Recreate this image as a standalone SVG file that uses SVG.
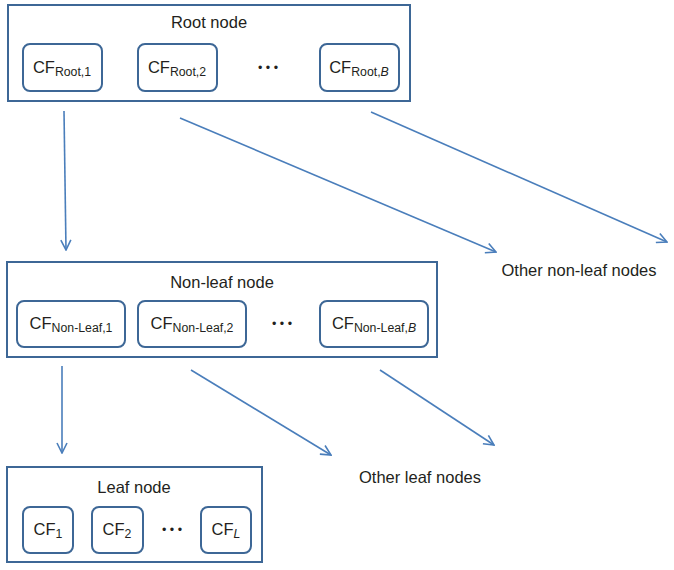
<svg xmlns="http://www.w3.org/2000/svg" width="674" height="570" viewBox="0 0 674 570">
<defs>
<marker id="ah" viewBox="0 0 12 12" refX="11" refY="6" markerWidth="12" markerHeight="12" markerUnits="userSpaceOnUse" orient="auto">
<path d="M1,1 L11,6 L1,11" fill="none" stroke="#4a7ebb" stroke-width="1.6"/>
</marker>
</defs>
<style>
.outer{fill:#fff;stroke:#3d6796;stroke-width:2}
.inner{fill:#fff;stroke:#3d6796;stroke-width:2}
.t{font-family:"Liberation Sans",Arial,sans-serif;font-size:16.5px;fill:#231f20;text-anchor:middle}
.sub{font-size:12.3px}
.dots{font-family:"Liberation Sans",Arial,sans-serif;font-size:12.5px;fill:#231f20;text-anchor:middle}
.conn line{stroke:#4a7ebb;stroke-width:1.6;marker-end:url(#ah)}
</style>
<rect width="674" height="570" fill="#fff"/>
<g id="root">
<rect class="outer" x="8" y="5" width="402" height="96"/>
<text class="t" x="209" y="28">Root node</text>
<rect class="inner" x="23" y="44" width="79" height="47" rx="7"/>
<text class="t" x="62" y="73">CF<tspan class="sub" dy="3">Root,1</tspan></text>
<rect class="inner" x="138" y="44" width="79" height="47" rx="7"/>
<text class="t" x="177" y="73">CF<tspan class="sub" dy="3">Root,2</tspan></text>
<text class="dots" x="268" y="72">• • •</text>
<rect class="inner" x="320" y="44" width="79" height="47" rx="7"/>
<text class="t" x="359" y="73">CF<tspan class="sub" dy="3">Root,<tspan font-style="italic">B</tspan></tspan></text>
</g>
<g id="nonleaf">
<rect class="outer" x="7" y="262" width="430" height="95"/>
<text class="t" x="222" y="288">Non-leaf node</text>
<rect class="inner" x="17" y="301" width="108" height="46" rx="7"/>
<text class="t" x="71" y="329">CF<tspan class="sub" dy="3">Non-Leaf,1</tspan></text>
<rect class="inner" x="138" y="301" width="108" height="46" rx="7"/>
<text class="t" x="192" y="329">CF<tspan class="sub" dy="3">Non-Leaf,2</tspan></text>
<text class="dots" x="282" y="328">• • •</text>
<rect class="inner" x="320" y="301" width="108" height="46" rx="7"/>
<text class="t" x="374" y="329">CF<tspan class="sub" dy="3">Non-Leaf,<tspan font-style="italic">B</tspan></tspan></text>
</g>
<g id="leaf">
<rect class="outer" x="7" y="467" width="255" height="95"/>
<text class="t" x="134" y="493">Leaf node</text>
<rect class="inner" x="23" y="507" width="50" height="46" rx="7"/>
<text class="t" x="48" y="535">CF<tspan class="sub" dy="3">1</tspan></text>
<rect class="inner" x="92" y="507" width="51" height="46" rx="7"/>
<text class="t" x="117" y="535">CF<tspan class="sub" dy="3">2</tspan></text>
<text class="dots" x="172" y="534">• • •</text>
<rect class="inner" x="201" y="507" width="50" height="46" rx="7"/>
<text class="t" x="226" y="535">CF<tspan class="sub" dy="3" font-style="italic">L</tspan></text>
</g>
<g id="other-nonleaf">
<text class="t" x="579" y="276">Other non-leaf nodes</text>
</g>
<g id="other-leaf">
<text class="t" x="420" y="483">Other leaf nodes</text>
</g>
<g class="conn" id="connectors">
<line x1="64" y1="111" x2="66" y2="250"/>
<line x1="180" y1="118" x2="496" y2="252"/>
<line x1="371" y1="112" x2="667" y2="242"/>
<line x1="62" y1="366" x2="62" y2="453"/>
<line x1="191" y1="370" x2="331" y2="455"/>
<line x1="380" y1="370" x2="494" y2="445"/>
</g>
</svg>
